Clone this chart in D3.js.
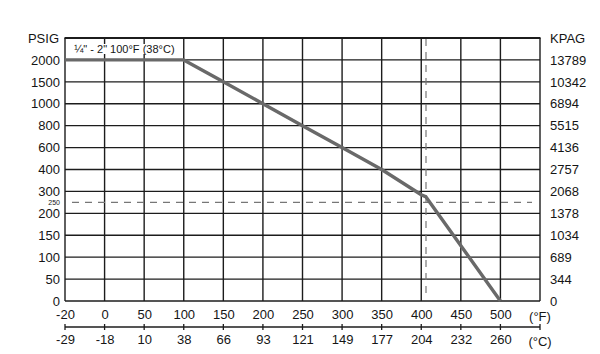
<!DOCTYPE html>
<html>
<head>
<meta charset="utf-8">
<script src="https://cdn.jsdelivr.net/npm/d3@7"></script>
<style>
  body { margin: 0; background: #fff; }
  text { font-family: "Liberation Sans Narrow", "Arial Narrow", "Liberation Sans", Arial, sans-serif; fill: #151515; }
</style>
</head>
<body>
<div id="chart"></div>
<script>
const chart_width = 600;
const chart_height = 354;

const left = 65;
const right = 540;
const top_y = 38;
const bottom = 301;

// tick labels
const f_ticks = [-20, 0, 50, 100, 150, 200, 250, 300, 350, 400, 450, 500];
const c_ticks = [-29, -18, 10, 38, 66, 93, 121, 149, 177, 204, 232, 260];
const psig_ticks = [0, 50, 100, 150, 200, 300, 400, 600, 800, 1000, 1500, 2000];
const kpag_ticks = [0, 344, 689, 1034, 1378, 2068, 2757, 4136, 5515, 6894, 10342, 13789];

// rating curve (deg F, psig)
const temp_f = [-20, 100, 150, 200, 250, 300, 350, 400, 406, 500];
const pressure = [2000, 2000, 1500, 1000, 800, 600, 400, 285, 275, 0];

const ref_pressure = 250;
const ref_temp = 406;

const col_w = (right - left) / 12;
const row_h = (bottom - top_y) / 12;

const svg = d3.select('#chart')
    .append('svg')
    .attr('width', chart_width)
    .attr('height', chart_height);

//--------------------------------------------------------------------
// Scales (piecewise, the chart grid is evenly spaced)
const x_scale = d3.scaleLinear()
    .domain(f_ticks)
    .range(f_ticks.map((d, i) => left + i * col_w));

const c_scale = d3.scaleLinear()
    .domain(c_ticks)
    .range(c_ticks.map((d, i) => left + i * col_w));

const y_scale = d3.scaleLinear()
    .domain(psig_ticks)
    .range(psig_ticks.map((d, i) => bottom - i * row_h));

const k_scale = d3.scaleLinear()
    .domain(kpag_ticks)
    .range(kpag_ticks.map((d, i) => bottom - i * row_h));

const plain = d => String(d);

//--------------------------------------------------------------------
// Grid
const grid = svg.append('g')
    .attr('stroke', '#1c1c1c')
    .attr('stroke-width', 1.4);

grid.selectAll('.hline')
    .data(psig_ticks)
    .enter()
    .append('line')
    .attr('x1', left)
    .attr('x2', right)
    .attr('y1', d => y_scale(d))
    .attr('y2', d => y_scale(d));

grid.selectAll('.vline')
    .data(f_ticks)
    .enter()
    .append('line')
    .attr('x1', d => x_scale(d))
    .attr('x2', d => x_scale(d))
    .attr('y1', top_y)
    .attr('y2', bottom);

grid.append('line')
    .attr('x1', right).attr('x2', right)
    .attr('y1', top_y).attr('y2', bottom);

grid.append('line')
    .attr('x1', left - 0.5).attr('x2', right + 0.5)
    .attr('y1', top_y).attr('y2', top_y)
    .attr('stroke-width', 2.2);

//--------------------------------------------------------------------
// Header note
const note_x = (x_scale(-20) + x_scale(100)) / 2;
svg.append('rect')
    .attr('x', note_x - 41)
    .attr('y', top_y + 6)
    .attr('width', 82)
    .attr('height', 10)
    .attr('fill', '#fff');

svg.append('text')
    .attr('x', note_x)
    .attr('y', top_y + 15)
    .attr('text-anchor', 'middle')
    .attr('font-size', 11)
    .text('\u00BC" - 2" 100\u00B0F (38\u00B0C)');

//--------------------------------------------------------------------
// Dashed reference lines
svg.append('line')
    .attr('x1', left + 7)
    .attr('x2', right - 8)
    .attr('y1', y_scale(ref_pressure))
    .attr('y2', y_scale(ref_pressure))
    .attr('stroke', '#777')
    .attr('stroke-width', 1.2)
    .attr('stroke-dasharray', '7,6');

svg.append('line')
    .attr('x1', x_scale(ref_temp))
    .attr('x2', x_scale(ref_temp))
    .attr('y1', top_y + 1)
    .attr('y2', bottom - 7)
    .attr('stroke', '#777')
    .attr('stroke-width', 1.2)
    .attr('stroke-dasharray', '7,6');

svg.append('text')
    .attr('x', left - 5)
    .attr('y', y_scale(ref_pressure) + 3)
    .attr('text-anchor', 'end')
    .attr('font-size', 7)
    .text(ref_pressure);

//--------------------------------------------------------------------
// Rating curve
const curve = temp_f.map((t, i) => ({ t: t, p: pressure[i] }));

const line = d3.line()
    .x(d => x_scale(d.t))
    .y(d => y_scale(d.p));

svg.append('path')
    .datum(curve)
    .attr('d', line)
    .attr('fill', 'none')
    .attr('stroke', '#696969')
    .attr('stroke-width', 3.4)
    .attr('stroke-linejoin', 'round');

//--------------------------------------------------------------------
// Axes
const y_axis = d3.axisLeft(y_scale)
    .tickValues(psig_ticks)
    .tickFormat(plain)
    .tickSize(0)
    .tickPadding(5);

svg.append('g')
    .attr('class', 'y-axis')
    .attr('transform', 'translate(' + left + ',0)')
    .call(y_axis);

const k_axis = d3.axisRight(k_scale)
    .tickValues(kpag_ticks)
    .tickFormat(plain)
    .tickSize(0)
    .tickPadding(10);

svg.append('g')
    .attr('class', 'k-axis')
    .attr('transform', 'translate(' + right + ',0)')
    .call(k_axis);

const x_axis = d3.axisBottom(x_scale)
    .tickValues(f_ticks)
    .tickFormat(plain)
    .tickSize(0)
    .tickPadding(9);

svg.append('g')
    .attr('class', 'x-axis')
    .attr('transform', 'translate(0,' + bottom + ')')
    .call(x_axis);

const c_axis = d3.axisBottom(c_scale)
    .tickValues(c_ticks)
    .tickFormat(plain)
    .tickSize(0)
    .tickPadding(8);

svg.append('g')
    .attr('class', 'c-axis')
    .attr('transform', 'translate(0,' + (bottom + 26) + ')')
    .call(c_axis);

svg.selectAll('.domain').remove();
svg.selectAll('.tick text')
    .attr('font-size', 13)
    .attr('font-family', null)
    .attr('fill', '#151515');

// tick line between F and C rows
const scale_y = bottom + 26;
svg.append('line')
    .attr('x1', left)
    .attr('x2', right)
    .attr('y1', scale_y)
    .attr('y2', scale_y)
    .attr('stroke', '#1c1c1c')
    .attr('stroke-width', 1.3);

svg.append('g')
    .selectAll('line')
    .data(f_ticks.map(d => x_scale(d)).concat([right]))
    .enter()
    .append('line')
    .attr('x1', d => d)
    .attr('x2', d => d)
    .attr('y1', scale_y - 3)
    .attr('y2', scale_y + 3)
    .attr('stroke', '#1c1c1c')
    .attr('stroke-width', 1.3);

// unit labels
svg.append('text')
    .attr('x', left - 6)
    .attr('y', top_y + 5)
    .attr('text-anchor', 'end')
    .attr('font-size', 13)
    .text('PSIG');

svg.append('text')
    .attr('x', right + 10)
    .attr('y', top_y + 5)
    .attr('font-size', 13)
    .text('KPAG');

svg.append('text')
    .attr('x', right)
    .attr('y', bottom + 20)
    .attr('text-anchor', 'middle')
    .attr('font-size', 13)
    .text('(\u00B0F)');

svg.append('text')
    .attr('x', right)
    .attr('y', bottom + 45)
    .attr('text-anchor', 'middle')
    .attr('font-size', 13)
    .text('(\u00B0C)');
</script>
</body>
</html>
